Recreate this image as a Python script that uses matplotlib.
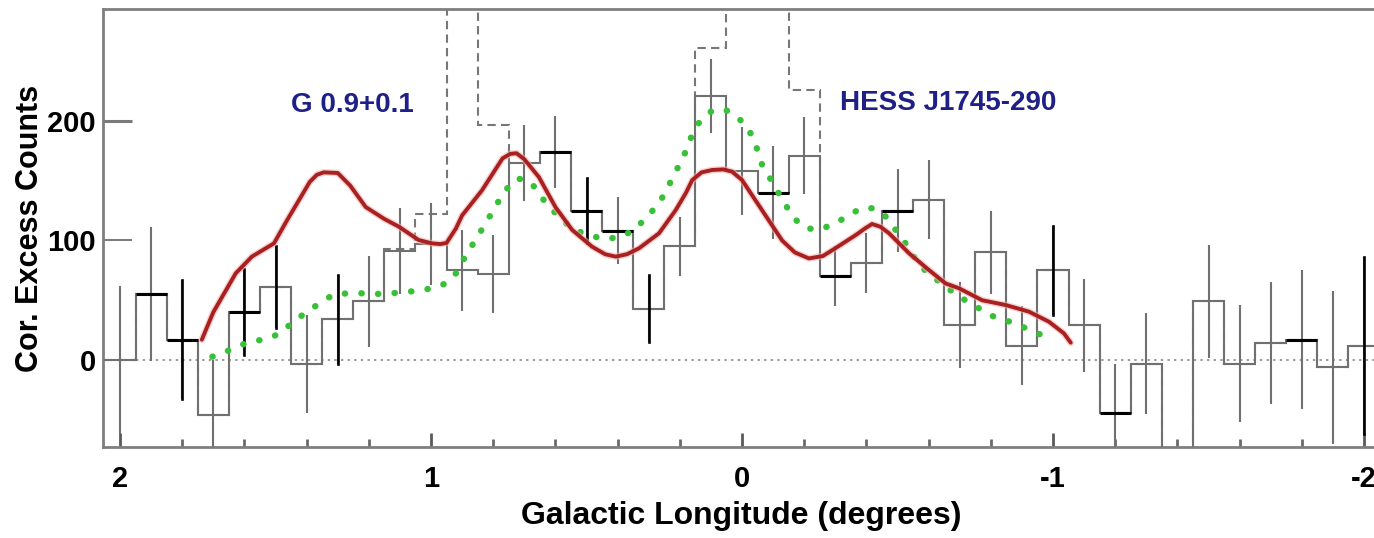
import matplotlib
matplotlib.use("Agg")
import matplotlib.pyplot as plt
import numpy as np

# ---------------- data ----------------
longitudes = [2.0, 1.9, 1.8, 1.7, 1.6, 1.5, 1.4, 1.3, 1.2, 1.1, 1.0,
              0.9, 0.8, 0.7, 0.6, 0.5, 0.4, 0.3, 0.2, 0.1, 0.0,
              -0.1, -0.2, -0.3, -0.4, -0.5, -0.6, -0.7, -0.8, -0.9, -1.0,
              -1.1, -1.2, -1.3, -1.4, -1.5, -1.6, -1.7, -1.8, -1.9, -2.0]
counts = [0, 55, 17, -46, 40, 61, -3, 34, 49, 91, 97,
          75, 72, 165, 174, 125, 108, 43, 95, 221, 158,
          140, 171, 70, 81, 125, 134, 29, 90, 12, 75,
          29, -44, -3, -120, 49, -3, 14, 17, -6, 12]
errors = [62, 56, 50, 46, 36, 34, 41, 37, 38, 36, 34,
          34, 33, 32, 30, 27, 28, 28, 25, 31, 37,
          39, 32, 25, 25, 35, 33, 36, 35, 33, 37,
          39, 41, 42, 40, 47, 49, 51, 58, 64, 74]
# histogram before point-source subtraction (off-scale bins set high)
counts_before = [0, 55, 17, -46, 40, 61, -3, 34, 49, 93, 122,
                 400, 197, 165, 174, 125, 108, 43, 95, 261, 400,
                 400, 226, 70, 81, 125, 134, 29, 90, 12, 75,
                 29, -44, -3, -120, 49, -3, 14, 17, -6, 12]

red_l = [1.737, 1.70, 1.628, 1.576, 1.505, 1.465, 1.424, 1.39, 1.367, 1.345, 1.30,
         1.26, 1.21, 1.15, 1.103, 1.04, 0.997, 0.97, 0.95, 0.92, 0.90, 0.836,
         0.77, 0.745, 0.725, 0.70, 0.653, 0.60, 0.546, 0.482, 0.44, 0.406,
         0.37, 0.331, 0.267, 0.213, 0.18, 0.16, 0.13, 0.096, 0.06, 0.032, 0.0,
         -0.064, -0.129, -0.17, -0.215, -0.26, -0.30, -0.366, -0.395, -0.418,
         -0.445, -0.473, -0.537, -0.601, -0.655, -0.698, -0.772, -0.848,
         -0.923, -0.987, -1.035, -1.057]
red_v = [17, 40, 72.5, 86.5, 97.6, 116, 134, 149, 155, 157, 156.5,
         146, 128, 118, 111.5, 100.4, 97.6, 97, 98, 110, 121, 142,
         168.7, 172.5, 173, 168, 153, 128, 108.8, 94.8, 88.5, 86.5,
         88.5, 93.5, 106, 125.5, 140, 150.6, 157, 159, 159.5, 157.6, 150.6,
         125.5, 100, 90, 85, 87, 93.5, 104.6, 110, 113.8,
         111.5, 106, 89.3, 75.3, 64, 60, 50, 46,
         40.4, 32, 22.3, 14.5]

green_l = [1.703, 1.64, 1.585, 1.532, 1.489, 1.446, 1.403, 1.355, 1.312, 1.264,
           1.205, 1.146, 1.103, 1.049, 0.996, 0.953, 0.92, 0.89, 0.856, 0.824,
           0.792, 0.76, 0.722, 0.679, 0.647, 0.615, 0.578, 0.54, 0.492, 0.444,
           0.39, 0.347, 0.31, 0.267, 0.24, 0.213, 0.186, 0.165, 0.14, 0.1,
           0.055, 0.01, -0.02, -0.044, -0.065, -0.097, -0.13, -0.162, -0.194,
           -0.237, -0.28, -0.328, -0.382, -0.424, -0.462, -0.494, -0.537,
           -0.569, -0.607, -0.655, -0.698, -0.746, -0.794, -0.846, -0.896,
           -0.945, -0.997]
green_v = [2.8, 9, 15.3, 17.3, 21.8, 31.2, 39.6, 48, 55, 55.8,
           55.8, 55, 56.6, 57.7, 60, 64, 72.5, 86.5, 101, 114.4,
           128.9, 142.3, 152, 149, 136.7, 127, 117, 108.8, 104.6, 101,
           103, 108.8, 118.5, 131, 143.7, 157.6, 171.5, 185.5, 198, 207.8,
           209.7, 202, 194, 180, 163, 149, 134, 120.5, 111.5,
           108.8, 112, 118.5, 127, 127, 120, 108.8, 93.5,
           79.5, 71, 61.4, 53, 46, 37.7, 33.5, 28.5,
           22.9, 17.3]

source_labels = ["G 0.9+0.1", "HESS J1745-290"]
source_label_l = [1.254, -0.662]
source_label_v = [213, 215]

ytick_values = [0, 100, 200]
xtick_major = [2, 1, 0, -1, -2]
xtick_labels = ["2", "1", "0", "-1", "-2"]
xtick_minor = [1.8, 1.6, 1.4, 1.2, 0.8, 0.6, 0.4, 0.2, -0.2, -0.4, -0.6, -0.8,
               -1.2, -1.4, -1.6, -1.8]

# bins drawn darker in the reference rendering
dark_bins = [1.9, 1.8, 1.6, 0.6, 0.5, 0.4, -0.1, -0.3, -0.5, -1.2, -1.8]
dark_err_bins = [1.8, 1.6, 1.5, 1.3, 0.5, 0.3, -1.0, -2.0]

# ---------------- plot ----------------
plt.rcParams['font.family'] = ['Liberation Sans', 'DejaVu Sans']
plt.rcParams['font.weight'] = 'bold'

W, H = 1374, 538
fig = plt.figure(figsize=(W / 100, H / 100), dpi=100)
ax = fig.add_axes([103 / W, 91 / H, 1277 / W, 438 / H])

lon = np.array(longitudes)
width = 0.1
edges = np.concatenate([lon + width / 2, [lon[-1] - width / 2]])

gray = '#707070'
ax.axhline(0, color='#9a9a9a', lw=1.4, ls=(0, (1.2, 2.2)), zorder=1)

ax.stairs(counts_before, edges, color='#777777', lw=1.5, ls=(0, (4, 2.5)), zorder=2)
ax.stairs(counts, edges, color=gray, lw=1.5, zorder=3)
ax.errorbar(longitudes, counts, yerr=errors, fmt='none', ecolor=gray,
            elinewidth=1.5, capsize=0, zorder=3)

for c, v in zip(longitudes, counts):
    if any(abs(c - d) < 1e-6 for d in dark_bins):
        ax.plot([c + width / 2, c - width / 2], [v, v], color='black', lw=2.2,
                solid_capstyle='butt', zorder=4)
for c, v, e in zip(longitudes, counts, errors):
    if any(abs(c - d) < 1e-6 for d in dark_err_bins):
        ax.plot([c, c], [v - e, v + e], color='black', lw=1.9, zorder=4)

ax.plot(green_l, green_v, color='#38c038', lw=4.6, ls=(0, (0.05, 2.55)),
        dash_capstyle='round', zorder=5)
ax.plot(red_l, red_v, color='#f2b3b3', lw=4.8, solid_capstyle='round',
        solid_joinstyle='round', zorder=6, alpha=0.6)
ax.plot(red_l, red_v, color='#a82020', lw=2.8, solid_capstyle='round',
        solid_joinstyle='round', zorder=7)

for txt, lx, lv in zip(source_labels, source_label_l, source_label_v):
    ax.text(lx, lv, txt, color='#1f1f88', fontsize=20, fontweight='bold',
            ha='center', va='center', zorder=8)

ax.set_xlim(2.0547, -2.0514)
ax.set_ylim(-72.8, 293.7)

for s in ['left', 'top', 'bottom']:
    ax.spines[s].set_color('#7f7f7f')
    ax.spines[s].set_linewidth(2.0)
ax.spines['right'].set_visible(False)

ax.set_yticks(ytick_values)
ax.set_yticklabels([str(v) for v in ytick_values])
ax.set_xticks(xtick_major)
ax.set_xticklabels(xtick_labels)
ax.set_xticks(xtick_minor, minor=True)
ax.tick_params(axis='y', direction='in', length=21, width=1.4, colors='#7a7a7a',
               labelcolor='black', labelsize=21, pad=5)
ax.tick_params(axis='x', which='major', direction='in', length=10, width=2,
               colors='#5a5a5a', labelcolor='black', labelsize=21, pad=13)
ax.tick_params(axis='x', which='minor', direction='in', length=5.5, width=2,
               colors='#6a6a6a')
ax.yaxis.get_major_ticks()[2].tick1line.set_color('black')
ax.yaxis.get_major_ticks()[2].tick1line.set_markeredgewidth(2.2)
for lab in ax.get_xticklabels() + ax.get_yticklabels():
    lab.set_fontweight('bold')

ax.set_xlabel('Galactic Longitude (degrees)', fontsize=23, fontweight='bold',
              labelpad=6)
ax.set_ylabel('Cor. Excess Counts', fontsize=22, fontweight='bold', labelpad=2)

fig.savefig('out.png', dpi=100)
